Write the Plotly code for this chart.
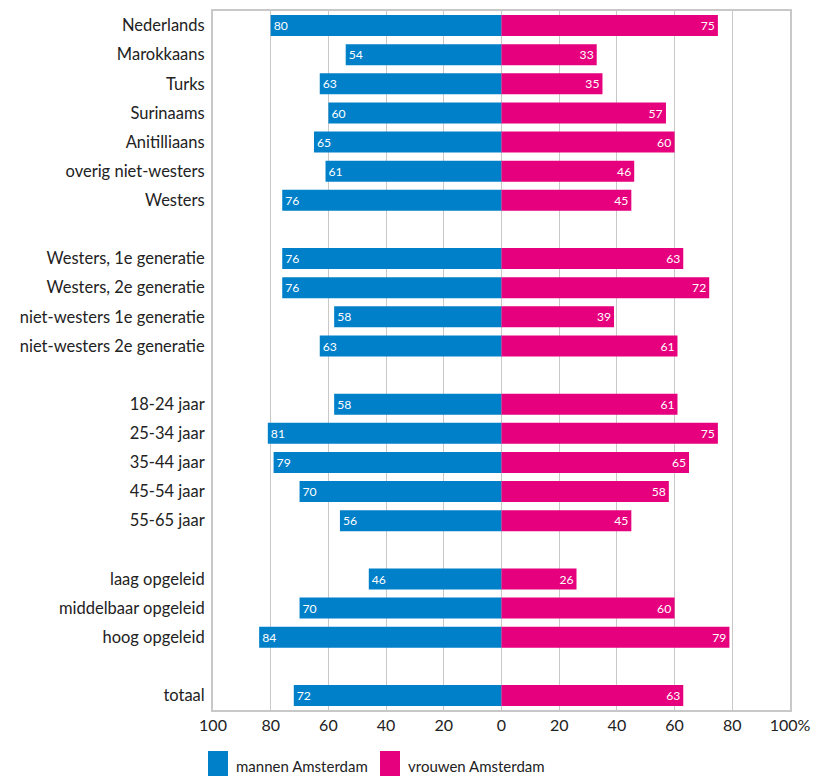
import plotly.graph_objects as go

categories = ["Nederlands", "Marokkaans", "Turks", "Surinaams", "Anitilliaans",
              "overig niet-westers", "Westers", "",
              "Westers, 1e generatie", "Westers, 2e generatie",
              "niet-westers 1e generatie", "niet-westers 2e generatie", "",
              "18-24 jaar", "25-34 jaar", "35-44 jaar", "45-54 jaar", "55-65 jaar", "",
              "laag opgeleid", "middelbaar opgeleid", "hoog opgeleid", "",
              "totaal"]
mannen = [80, 54, 63, 60, 65, 61, 76, None,
          76, 76, 58, 63, None,
          58, 81, 79, 70, 56, None,
          46, 70, 84, None,
          72]
vrouwen = [75, 33, 35, 57, 60, 46, 45, None,
           63, 72, 39, 61, None,
           61, 75, 65, 58, 45, None,
           26, 60, 79, None,
           63]
series_names = ["mannen Amsterdam", "vrouwen Amsterdam"]
tick_vals = [-100, -80, -60, -40, -20, 0, 20, 40, 60, 80, 100]
tick_text = ["100", "80", "60", "40", "20", "0", "20", "40", "60", "80", "100%"]

BLUE = "#0080C9"
PINK = "#E6007E"
FONT = "Lato, 'Open Sans', sans-serif"

# figure geometry (page body has an 8px margin)
W, H = 814, 768
ML, MR, MT, MB = 205, 32, 3, 66
PW, PH = W - ML - MR, H - MT - MB


def px_x(px):
    return (px - ML) / PW


def px_y(py):
    return (H - MB - py) / PH


ypos = list(range(len(categories)))
men_x = [-v if v is not None else None for v in mannen]
men_t = [str(v) if v is not None else "" for v in mannen]
wom_t = [str(v) if v is not None else "" for v in vrouwen]

fig = go.Figure()
fig.add_trace(go.Bar(
    y=ypos, x=men_x, orientation="h", name=series_names[0],
    marker=dict(color=BLUE, line=dict(width=0)),
    text=men_t, textposition="inside", insidetextanchor="end", textangle=0,
    textfont=dict(color="white", size=13, family=FONT),
    width=0.72, showlegend=False, cliponaxis=False))
fig.add_trace(go.Bar(
    y=ypos, x=vrouwen, orientation="h", name=series_names[1],
    marker=dict(color=PINK, line=dict(width=0)),
    text=wom_t, textposition="inside", insidetextanchor="end", textangle=0,
    textfont=dict(color="white", size=13, family=FONT),
    width=0.72, showlegend=False, cliponaxis=False))

fig.update_layout(
    width=W, height=H,
    margin=dict(l=ML, r=MR, t=MT, b=MB, autoexpand=False),
    barmode="overlay",
    plot_bgcolor="white", paper_bgcolor="white",
    font=dict(family=FONT, color="#222222"),
)
fig.update_xaxes(
    range=[-100, 100], tickvals=tick_vals, ticktext=tick_text,
    showgrid=True, gridcolor="#C8C8C8", gridwidth=1,
    zeroline=True, zerolinecolor="#C8C8C8", zerolinewidth=1,
    showline=True, linecolor="#C8C8C8", linewidth=2, mirror=True,
    tickfont=dict(size=16, color="#222222"), ticks="", fixedrange=True,
    automargin=False,
)
fig.update_yaxes(
    range=[23.5, -0.5], tickvals=ypos, ticktext=categories,
    showgrid=False, zeroline=False,
    showline=True, linecolor="#C8C8C8", linewidth=2, mirror=True,
    tickfont=dict(size=16.5, color="#222222"), ticks="",
    ticklabelstandoff=3, fixedrange=True, automargin=False,
)

# custom legend (large square swatches like the reference)
legend_items = [(series_names[0], BLUE, 200), (series_names[1], PINK, 372)]
for name, col, x0 in legend_items:
    fig.add_shape(type="rect", xref="paper", yref="paper",
                  x0=px_x(x0), x1=px_x(x0 + 20), y0=px_y(768), y1=px_y(743),
                  fillcolor=col, line=dict(width=0))
    fig.add_annotation(xref="paper", yref="paper", x=px_x(x0 + 26), y=px_y(758),
                       text=name, showarrow=False, xanchor="left", yanchor="middle",
                       font=dict(size=15, color="#222222", family=FONT))

fig.write_html("out.html")
